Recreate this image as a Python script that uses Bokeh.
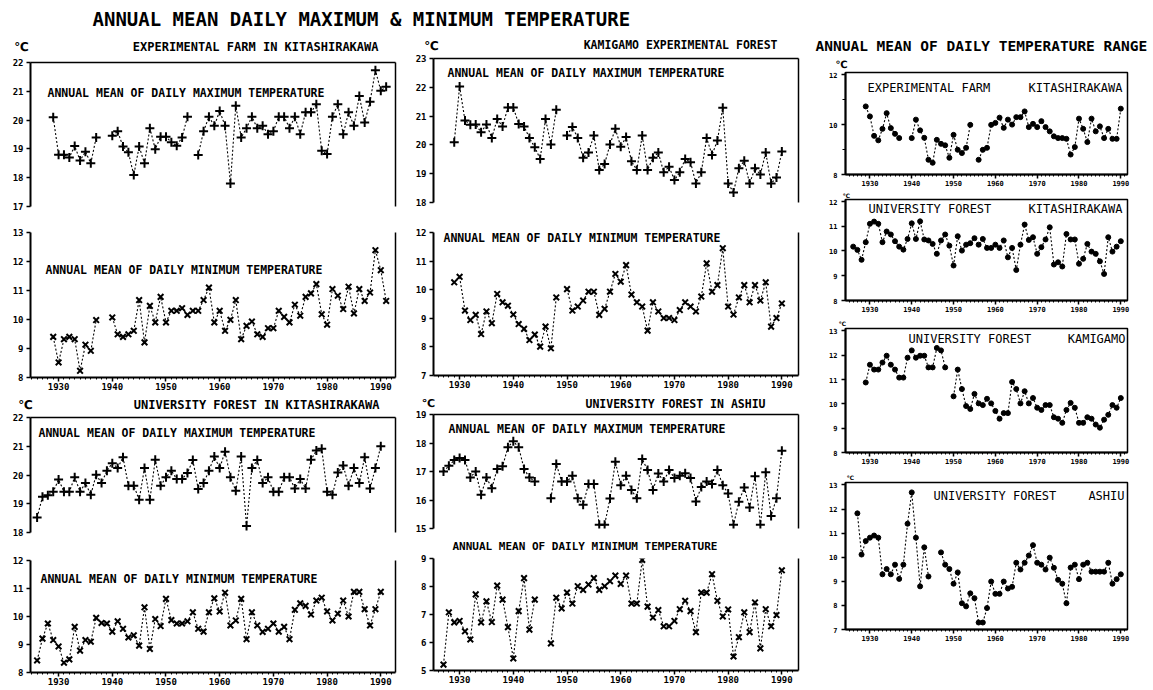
import numpy as np
from bokeh.plotting import figure
from bokeh.models import Range1d, LinearAxis, FixedTicker, Label
from bokeh.layouts import row, column
from bokeh.embed import file_html
from bokeh.resources import INLINE

# ---------------- data ----------------
DECADE_TICKS = [1930, 1940, 1950, 1960, 1970, 1980, 1990]

# Experimental Farm, Kitashirakawa
FARM_MAX_START = 1929
FARM_MAX = [20.1, 18.8, 18.8, 18.7, 19.1, 18.6, 18.9, 18.5, 19.4,
            None, None,
            19.46, 19.61, 19.08, 18.88, 18.09, 19.08, 18.5, 19.72, 18.99, 19.42,
            19.42, 19.23, 19.11, 19.4, 20.12,
            None,
            18.79, 19.61, 20.12, 19.8, 20.32, 19.8, 17.8, 20.5, 19.4, 19.72,
            20.12, 19.72, 19.8, 19.51, 19.61, 20.12, 20.12, 19.72, 20.12, 19.51,
            20.27, 20.27, 20.55, 18.94, 18.82, 20.12, 20.55, 19.51, 20.27, 19.8,
            20.84, 19.92, 20.64, 21.73, 21.02, 21.16]
FARM_MIN_START = 1929
FARM_MIN = [9.40, 8.52, 9.32, 9.40, 9.32, 8.23, 9.13, 8.92, 9.98,
            None, None,
            10.07, 9.49, 9.40, 9.49, 9.61, 10.67, 9.21, 10.47, 9.90, 10.78,
            9.90, 10.30, 10.30, 10.39, 10.16, 10.30, 10.30, 10.67, 11.10, 9.90,
            10.30, 9.61, 9.99, 10.67, 9.32, 9.78, 9.93, 9.49, 9.40, 9.70,
            9.70, 10.30, 10.09, 9.90, 10.51, 10.13, 10.78, 10.90, 11.22, 10.18,
            9.82, 11.05, 10.82, 10.36, 11.13, 10.21, 11.05, 10.64, 10.93, 12.39,
            11.70, 10.64]

# Kamigamo Experimental Forest
KAMI_MAX_START = 1929
KAMI_MAX = [20.09, 22.03, 20.85, 20.7, 20.71, 20.44, 20.71, 20.24, 20.9, 20.64,
            21.3, 21.3, 20.73, 20.64, 20.24, 19.92, 19.51, 20.9, 20.01, 21.22,
            None,
            20.33, 20.62, 20.24, 19.55, 19.74, 20.33, 19.13, 19.34, 20.01, 20.56,
            19.94, 20.27, 19.43, 19.13, 20.33, 19.13, 19.55, 19.74, 19.05, 19.24,
            18.78, 19.05, 19.51, 19.40, 18.66, 19.05, 20.24, 19.65, 20.15, 21.29,
            18.66, 18.35, 19.19, 19.45, 18.66, 19.19, 18.97, 19.74, 18.66, 18.87,
            19.77]
KAMI_MIN_START = 1929
KAMI_MIN = [10.26, 10.45, 9.27, 8.94, 9.12, 8.45, 9.24, 8.83, 9.85, 9.56,
            9.44, 9.13, 8.80, 8.63, 8.24, 8.43, 8.01, 8.71, 7.95, 9.73,
            None,
            10.02, 9.27, 9.41, 9.62, 9.93, 9.93, 9.12, 9.33, 9.93, 10.55,
            10.28, 10.86, 9.83, 9.56, 9.41, 8.57, 9.56, 9.24, 9.01, 9.01,
            8.94, 9.29, 9.56, 9.41, 9.24, 9.76, 10.92, 9.93, 10.16, 11.45,
            9.41, 9.13, 9.73, 10.16, 9.56, 10.16, 9.62, 10.26, 8.71, 9.01,
            9.52]

# University Forest in Kitashirakawa
UKITA_MAX_START = 1926
UKITA_MAX = [18.52, 19.24, 19.30, 19.42, 19.84, 19.42, 19.42, 19.92, 19.42, 19.72,
             19.31, 20.01, 19.72, 20.15, 20.41, 20.24, 20.62, 19.63, 19.63, 19.14,
             20.24, 19.14, 20.53, 19.63, 19.92, 20.15, 19.86, 19.86, 20.07, 20.52,
             19.51, 19.72, 20.15, 20.64, 20.24, 20.81, 19.92, 19.45, 20.64, 18.23,
             20.24, 20.52, 19.72, 19.92, 19.42, 19.42, 19.92, 19.92, 19.53, 19.86,
             19.53, 20.53, 20.85, 20.91, 19.42, 19.31, 20.09, 20.33, 19.63, 20.24,
             19.72, 20.62, 19.53, 20.24, 21.0]
UKITA_MIN_START = 1926
UKITA_MIN = [8.43, 9.21, 9.75, 9.16, 8.93, 8.35, 8.47, 9.63, 8.78, 9.16,
             9.10, 9.95, 9.77, 9.75, 9.46, 9.83, 9.56, 9.25, 9.33, 8.96,
             10.33, 8.84, 9.91, 9.66, 10.63, 9.87, 9.75, 9.75, 9.83, 10.15,
             9.56, 9.46, 10.15, 10.65, 10.18, 10.85, 9.68, 9.86, 10.63, 9.19,
             10.15, 9.68, 9.45, 9.56, 9.75, 9.46, 9.63, 9.19, 10.24, 10.47,
             10.38, 10.07, 10.57, 10.67, 10.18, 9.86, 10.10, 10.57, 10.00, 10.88,
             10.88, 10.26, 9.68, 10.26, 10.88]

# University Forest in Ashiu
ASHIU_MAX_START = 1927
ASHIU_MAX = [17.0, 17.2, 17.4, 17.47, 17.4, 16.79, 17.0, 16.18, 16.79, 16.41,
             17.09, 17.18, 17.85, 18.06, 17.85, 17.09, 16.79, 16.65,
             None, None,
             16.06, 17.26, 16.65, 16.65, 16.85, 16.06, 15.83, 16.56, 16.56, 15.13,
             15.13, 16.05, 17.34, 16.52, 16.85, 16.35, 16.06, 17.44, 17.05, 16.35,
             16.93, 16.65, 17.05, 16.77, 16.85, 16.94, 16.77, 15.95, 16.46, 16.65,
             16.56, 17.05, 16.52, 16.23, 15.13, 15.94, 16.44, 15.74, 16.83, 15.13,
             16.97, 15.44, 16.06, 17.73]
ASHIU_MIN_START = 1927
ASHIU_MIN = [5.21, 7.08, 6.72, 6.77, 6.40, 6.11, 7.72, 6.72, 7.47, 6.73,
             8.03, 7.53, 6.55, 5.43, 7.12, 8.30, 6.46, 7.53,
             None, None,
             5.97, 7.60, 7.22, 7.78, 7.39, 8.01, 7.88, 8.07, 8.30, 7.88,
             8.01, 8.19, 8.39, 8.09, 8.39, 7.39, 7.39, 8.95, 7.28, 6.89,
             7.16, 6.58, 6.58, 6.77, 7.19, 7.49, 7.12, 6.37, 7.78, 7.78,
             8.44, 7.49, 6.93, 7.18, 5.50, 6.19, 7.08, 6.37, 7.43, 5.79,
             7.19, 6.58, 6.98, 8.58]

# Annual mean of daily temperature range
RANGE_FARM_START = 1929
RANGE_FARM = [10.73, 10.33, 9.55, 9.37, 9.83, 10.46, 9.86, 9.63, 9.46,
              None, None,
              9.46, 10.20, 9.77, 9.47, 8.59, 8.47, 9.39, 9.23, 9.17, 8.67,
              9.59, 8.99, 8.86, 9.07, 9.99,
              None,
              8.59, 8.99, 9.07, 9.99, 10.07, 10.28, 9.87, 10.20, 10.00, 10.30,
              10.30, 10.53, 9.90, 10.03, 9.90, 10.14, 9.90, 9.73, 9.53, 9.46,
              9.46, 9.43, 8.80, 9.10, 10.24, 9.83, 9.30, 10.24, 9.73, 9.93,
              9.46, 9.83, 9.43, 9.43, 10.64]
RANGE_UKITA_START = 1926
RANGE_UKITA = [10.17, 10.04, 9.64, 10.35, 11.09, 11.18, 11.09, 10.35, 10.78, 10.66,
               10.39, 10.17, 10.05, 10.48, 11.11, 10.48, 11.19, 10.46, 10.42, 10.28,
               9.88, 10.42, 10.66, 10.21, 9.41, 10.59, 10.01, 10.25, 10.31, 10.51,
               10.25, 10.48, 10.12, 10.12, 10.25, 10.12, 10.42, 9.74, 10.12, 9.23,
               10.25, 11.06, 10.44, 10.55, 9.88, 10.15, 10.46, 10.95, 9.45, 9.54,
               9.37, 10.68, 10.46, 10.46, 9.48, 9.68, 10.28, 9.97, 9.88, 9.58,
               9.07, 10.55, 9.97, 10.17, 10.39]
RANGE_KAMI_START = 1929
RANGE_KAMI = [10.88, 11.61, 11.41, 11.41, 11.70, 11.98, 11.61, 11.41, 11.08, 11.08,
              11.90, 12.20, 11.90, 11.98, 11.98, 11.50, 11.50, 12.30, 12.20, 11.50,
              None,
              10.31, 11.41, 10.61, 9.91, 9.79, 10.41, 10.02, 9.95, 10.21, 10.02,
              9.71, 9.39, 9.62, 9.62, 10.90, 10.61, 10.02, 10.52, 10.02, 10.24,
              9.84, 9.75, 9.95, 9.95, 9.45, 9.39, 9.22, 9.75, 10.04, 9.84,
              9.22, 9.22, 9.45, 9.39, 9.15, 9.02, 9.35, 9.55, 9.95, 9.84,
              10.24]
RANGE_ASHIU_START = 1927
RANGE_ASHIU = [11.82, 10.11, 10.67, 10.81, 10.90, 10.81, 9.29, 9.51, 9.29, 9.69,
               9.10, 9.69, 11.39, 12.69, 10.81, 8.79, 10.41, 9.20,
               None, None,
               10.20, 9.69, 9.51, 8.90, 9.37, 8.09, 7.96, 8.50, 8.30, 7.29,
               7.29, 7.89, 8.99, 8.48, 8.48, 8.99, 8.70, 8.77, 9.77, 9.49,
               9.77, 10.07, 10.50, 9.77, 9.69, 9.49, 9.98, 9.56, 9.06, 8.90,
               8.09, 9.57, 9.69, 9.09, 9.69, 9.77, 9.40, 9.40, 9.40, 9.40,
               9.77, 8.90, 9.09, 9.29]

# ---------------- styling / layout helpers ----------------
MONO = "DejaVu Sans Mono"
DEG = "\u2103"
MAXLAB = "ANNUAL MEAN OF DAILY MAXIMUM TEMPERATURE"
MINLAB = "ANNUAL MEAN OF DAILY MINIMUM TEMPERATURE"


def series(start, vals):
    y = np.array(vals, dtype=float)
    x = np.arange(start, start + len(y))
    return x, y


def to_data(s, wx, wy):
    fw = s["w"] - s["bl"] - s["br"]
    fh = s["h"] - s["bt"] - s["bb"]
    x0, x1 = s["xr"]
    y0, y1 = s["yr"]
    x = x0 + (wx - s["fx"] - s["bl"]) / fw * (x1 - x0)
    y = y1 - (wy - s["fy"] - s["bt"]) / fh * (y1 - y0)
    return x, y


def add_text(p, s, wx, wy, text, size, align="left", bold=True, font=MONO):
    x, y = to_data(s, wx, wy)
    p.add_layout(Label(x=x, y=y, text=text, text_font=font, text_font_size=size,
                       text_font_style="bold" if bold else "normal",
                       text_align=align, text_baseline="middle", text_color="black"))


def strip(fx, fy, w, h):
    s = dict(fx=fx, fy=fy, w=w, h=h, bl=0, br=0, bt=0, bb=0, xr=(0, w), yr=(0, h))
    p = figure(width=w, height=h, x_range=Range1d(0, w), y_range=Range1d(0, h),
               output_backend="svg", toolbar_location=None, min_border=0,
               x_axis_location=None, y_axis_location=None)
    p.grid.visible = False
    p.outline_line_color = None
    return p, s


def blank_axis(loc, p):
    ax = LinearAxis(ticker=FixedTicker(ticks=[]), axis_line_width=1.5,
                    axis_line_color="black", major_tick_line_color=None,
                    minor_tick_line_color=None, major_label_text_font_size="0px")
    p.add_layout(ax, loc)


def make_panel(s, yticks, with_xaxis, box=False, small=False, yminor=None):
    p = figure(width=s["w"], height=s["h"], x_range=Range1d(*s["xr"]),
               y_range=Range1d(*s["yr"]), output_backend="svg", toolbar_location=None,
               min_border_left=s["bl"], min_border_right=s["br"],
               min_border_top=s["bt"], min_border_bottom=s["bb"],
               x_axis_location="below" if with_xaxis else None,
               y_axis_location="left")
    p.grid.visible = False
    p.background_fill_color = "white"
    p.border_fill_color = "white"
    if box:
        p.outline_line_color = "black"
        p.outline_line_width = 1.5
    else:
        p.outline_line_color = None
        if not with_xaxis:
            blank_axis("above", p)
        blank_axis("right", p)
    lab = "7px" if small else "9px"
    ya = p.yaxis[0]
    ya.ticker = FixedTicker(ticks=yticks, minor_ticks=yminor or [])
    ya.axis_line_width = 2
    ya.axis_line_color = "black"
    ya.major_tick_line_color = "black"
    ya.minor_tick_line_color = "black"
    ya.major_tick_in = 0
    ya.major_tick_out = 4
    ya.minor_tick_in = 0
    ya.minor_tick_out = 3
    ya.major_tick_line_width = 1.5
    ya.major_label_text_font = MONO
    ya.major_label_text_font_style = "bold"
    ya.major_label_text_font_size = lab
    ya.major_label_text_color = "black"
    ya.major_label_standoff = 4 if small else 3
    if with_xaxis:
        xa = p.xaxis[0]
        xa.ticker = FixedTicker(ticks=DECADE_TICKS, minor_ticks=list(range(1925, 1993)))
        xa.axis_line_width = 2
        xa.axis_line_color = "black"
        xa.major_tick_line_color = "black"
        xa.minor_tick_line_color = "black"
        xa.major_tick_in = 0
        xa.major_tick_out = 4
        xa.minor_tick_in = 0
        xa.minor_tick_out = 2
        xa.major_tick_line_width = 1.5
        xa.major_label_text_font = MONO
        xa.major_label_text_font_style = "bold"
        xa.major_label_text_font_size = lab
        xa.major_label_text_color = "black"
        xa.major_label_standoff = 1
    return p


def plot_series(p, start, vals, marker, size, lw=2.0):
    x, y = series(start, vals)
    p.line(x, y, line_color="black", line_width=1.1, line_dash="2 2")
    if marker == "circle":
        p.scatter(x, y, marker="circle", size=size, fill_color="black", line_color="black")
    else:
        p.scatter(x, y, marker=marker, size=size, line_color="black", line_width=lw)


XR1 = (1924.77, 1992.74)
XR2 = (1925.14, 1993.10)
XR3 = (1924.16, 1991.60)

# ---- column 1 panels (window coordinates of each canvas) ----
sA = dict(fx=0, fy=53, w=400, h=165, bl=30, br=5, bt=9, bb=12, xr=XR1, yr=(17, 22))
sB = dict(fx=0, fy=218, w=400, h=178, bl=30, br=5, bt=14, bb=19, xr=XR1, yr=(8, 13))
sC = dict(fx=0, fy=412, w=400, h=136, bl=30, br=5, bt=5, bb=16, xr=XR1, yr=(18, 22))
sD = dict(fx=0, fy=548, w=400, h=140, bl=30, br=5, bt=12, bb=16, xr=XR1, yr=(8, 12))
# ---- column 2 panels ----
sE = dict(fx=400, fy=53, w=405, h=165, bl=33, br=7, bt=5, bb=16, xr=XR2, yr=(18, 23))
sF = dict(fx=400, fy=218, w=405, h=178, bl=33, br=7, bt=14, bb=21, xr=XR2, yr=(7, 12))
sG = dict(fx=400, fy=410, w=405, h=129, bl=33, br=7, bt=4, bb=11, xr=XR2, yr=(15, 19))
sH = dict(fx=400, fy=553, w=405, h=135, bl=33, br=7, bt=5, bb=18, xr=XR2, yr=(5, 9))
# ---- column 3 panels ----
sI = dict(fx=805, fy=70, w=346, h=118, bl=40, br=24, bt=2, bb=14, xr=XR3, yr=(8, 12.09))
sJ = dict(fx=805, fy=198, w=346, h=118, bl=40, br=24, bt=1, bb=16, xr=XR3, yr=(8, 12.07))
sK = dict(fx=805, fy=327, w=346, h=143, bl=40, br=24, bt=1, bb=18, xr=XR3, yr=(8, 13.1))
sL = dict(fx=805, fy=481, w=346, h=167, bl=40, br=24, bt=1, bb=19, xr=XR3, yr=(7, 13.1))

# ---- header over columns 1 and 2 ----
head, sHead = strip(0, 0, 805, 53)
add_text(head, sHead, 92, 18, "ANNUAL MEAN DAILY MAXIMUM &  MINIMUM TEMPERATURE", "19px")
add_text(head, sHead, 21, 46, DEG, "12px", align="center", font="DejaVu Sans")
add_text(head, sHead, 378, 46, "EXPERIMENTAL FARM IN KITASHIRAKAWA", "12px", align="right")
add_text(head, sHead, 431, 45, DEG, "12px", align="center", font="DejaVu Sans")
add_text(head, sHead, 777, 44, "KAMIGAMO EXPERIMENTAL FOREST", "11.5px", align="right")

# ---- strips between the upper and lower station pairs ----
mid1, sMid1 = strip(0, 396, 400, 16)
add_text(mid1, sMid1, 25, 404, DEG, "12px", align="center", font="DejaVu Sans")
add_text(mid1, sMid1, 379, 404, "UNIVERSITY FOREST IN KITASHIRAKAWA", "12px", align="right")
mid2, sMid2 = strip(400, 396, 405, 14)
add_text(mid2, sMid2, 428, 403, DEG, "11px", align="center", font="DejaVu Sans")
add_text(mid2, sMid2, 765, 403, "UNIVERSITY FOREST IN ASHIU", "11.5px", align="right")
hlab, sHlab = strip(400, 539, 405, 14)
add_text(hlab, sHlab, 452, 546, MINLAB, "11px")

# ---- column 3 strips ----
topI, sTopI = strip(805, 0, 346, 70)
add_text(topI, sTopI, 815, 45, "ANNUAL MEAN OF DAILY TEMPERATURE RANGE", "14.5px")
add_text(topI, sTopI, 841, 64, DEG, "10px", align="center", font="DejaVu Sans")
topJ, sTopJ = strip(805, 188, 346, 10)
add_text(topJ, sTopJ, 846, 193, DEG, "6px", align="center", font="DejaVu Sans")
topK, sTopK = strip(805, 316, 346, 11)
add_text(topK, sTopK, 842, 321.5, DEG, "6px", align="center", font="DejaVu Sans")
topL, sTopL = strip(805, 470, 346, 11)
add_text(topL, sTopL, 850, 475.5, DEG, "6px", align="center", font="DejaVu Sans")

# ---- panels ----
pA = make_panel(sA, [17, 18, 19, 20, 21, 22], False)
plot_series(pA, FARM_MAX_START, FARM_MAX, "cross", 9)
add_text(pA, sA, 47, 92, MAXLAB, "11.5px")

pB = make_panel(sB, [8, 9, 10, 11, 12, 13], True)
plot_series(pB, FARM_MIN_START, FARM_MIN, "x", 8)
add_text(pB, sB, 45, 269, MINLAB, "11.5px")

pC = make_panel(sC, [18, 19, 20, 21, 22], False)
plot_series(pC, UKITA_MAX_START, UKITA_MAX, "cross", 9)
add_text(pC, sC, 38, 432, MAXLAB, "11.5px")

pD = make_panel(sD, [8, 9, 10, 11, 12], True)
plot_series(pD, UKITA_MIN_START, UKITA_MIN, "x", 8)
add_text(pD, sD, 40, 578, MINLAB, "11.5px")

pE = make_panel(sE, [18, 19, 20, 21, 22, 23], False)
plot_series(pE, KAMI_MAX_START, KAMI_MAX, "cross", 9)
add_text(pE, sE, 447, 72, MAXLAB, "11.5px")

pF = make_panel(sF, [7, 8, 9, 10, 11, 12], True)
plot_series(pF, KAMI_MIN_START, KAMI_MIN, "x", 8)
add_text(pF, sF, 443, 237, MINLAB, "11.5px")

pG = make_panel(sG, [15, 16, 17, 18, 19], False)
plot_series(pG, ASHIU_MAX_START, ASHIU_MAX, "cross", 9)
add_text(pG, sG, 448, 428, MAXLAB, "11.5px")

pH = make_panel(sH, [5, 6, 7, 8, 9], True)
plot_series(pH, ASHIU_MIN_START, ASHIU_MIN, "x", 8)

pI = make_panel(sI, [8, 10, 12], True, box=True, small=True, yminor=[9, 11])
plot_series(pI, RANGE_FARM_START, RANGE_FARM, "circle", 5)
add_text(pI, sI, 867, 87, "EXPERIMENTAL FARM", "12px", bold=False)
add_text(pI, sI, 1122, 87, "KITASHIRAKAWA", "12px", align="right", bold=False)

pJ = make_panel(sJ, [8, 9, 10, 11, 12], True, box=True, small=True)
plot_series(pJ, RANGE_UKITA_START, RANGE_UKITA, "circle", 5)
add_text(pJ, sJ, 868, 208, "UNIVERSITY FOREST", "12px", bold=False)
add_text(pJ, sJ, 1122, 208, "KITASHIRAKAWA", "12px", align="right", bold=False)

pK = make_panel(sK, [8, 9, 10, 11, 12, 13], True, box=True, small=True)
plot_series(pK, RANGE_KAMI_START, RANGE_KAMI, "circle", 5)
add_text(pK, sK, 908, 338, "UNIVERSITY FOREST", "12px", bold=False)
add_text(pK, sK, 1125, 338, "KAMIGAMO", "12px", align="right", bold=False)

pL = make_panel(sL, [7, 8, 9, 10, 11, 12, 13], True, box=True, small=True)
plot_series(pL, RANGE_ASHIU_START, RANGE_ASHIU, "circle", 5)
add_text(pL, sL, 933, 495, "UNIVERSITY FOREST", "12px", bold=False)
add_text(pL, sL, 1124, 495, "ASHIU", "12px", align="right", bold=False)

# strips are wrapped in rows so that their frames are not aligned with the panels
col1 = column(pA, pB, row(mid1), pC, pD)
col2 = column(pE, pF, row(mid2), pG, row(hlab), pH)
col3 = column(row(topI), pI, row(topJ), pJ, row(topK), pK, row(topL), pL)
left_block = column(head, row(col1, col2))
layout = row(left_block, col3)

open("out.html", "w").write(file_html(layout, INLINE, title="Annual mean daily maximum & minimum temperature"))
